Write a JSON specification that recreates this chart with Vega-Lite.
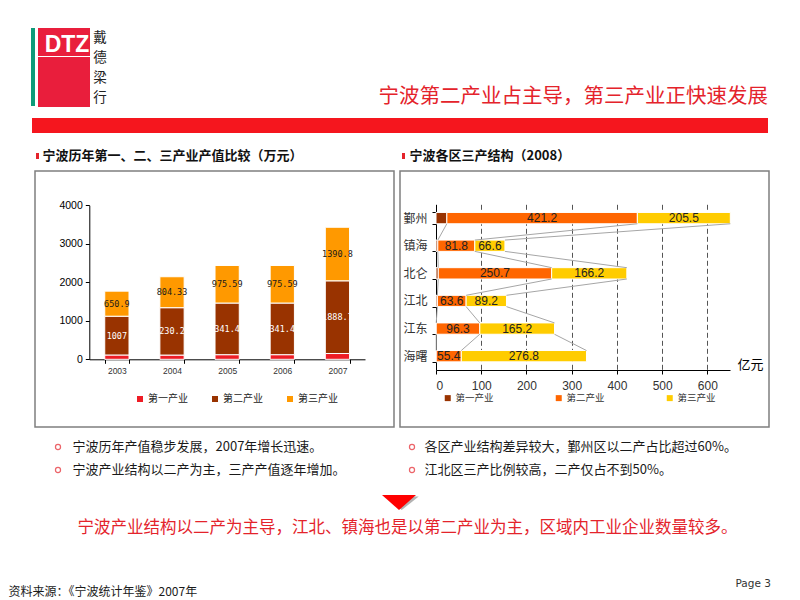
{
  "$schema": "https://vega.github.io/schema/vega-lite/v6.json",
  "padding": 0,
  "background": "white",
  "spacing": 0,
  "bounds": "full",
  "resolve": {"scale": {"color": "independent"}, "legend": {"color": "independent"}},
  "config": {"view": {"stroke": null}, "font": "Noto Sans CJK SC"},
  "vconcat": [
    {"width": 1, "height": 28, "data": {"values": []}, "mark": "text", "encoding": {}},
    {
      "spacing": 0, "bounds": "full",
      "title": {"text": "宁波第二产业占主导，第三产业正快速发展", "orient": "bottom", "anchor": "end", "offset": -21, "baseline": "top", "fontSize": 20.5, "fontWeight": "normal", "color": "#e4232b", "font": "Noto Sans CJK SC"},
      "hconcat": [
        {"width": 31, "height": 78, "data": {"values": []}, "mark": "text", "encoding": {}},
        {"width": 4, "height": 78, "view": {"fill": "#0e9b79", "stroke": null}, "data": {"values": []}, "mark": "text", "encoding": {}},
        {"width": 3, "height": 78, "data": {"values": []}, "mark": "text", "encoding": {}},
        {
          "spacing": 0, "bounds": "full",
          "vconcat": [
            {"width": 52, "height": 5, "view": {"fill": "#e91e3c", "stroke": null}, "data": {"values": []}, "mark": "text", "encoding": {}},
            {
              "spacing": 0, "bounds": "full",
              "hconcat": [
                {"width": 6, "height": 23, "view": {"fill": "#e91e3c", "stroke": null}, "data": {"values": []}, "mark": "text", "encoding": {}},
                {"width": 46, "height": 23, "view": {"fill": "#e91e3c", "stroke": null}, "data": {"values": [{"t": "DTZ"}]}, "mark": {"type": "text", "font": "Liberation Sans", "fontWeight": "bold", "fontSize": 23, "color": "white", "baseline": "middle"}, "encoding": {"text": {"field": "t"}}}
              ]
            },
            {"width": 52, "height": 50, "view": {"fill": "#e91e3c", "stroke": null}, "data": {"values": []}, "mark": "text", "encoding": {}}
          ]
        },
        {"width": 3, "height": 78, "data": {"values": []}, "mark": "text", "encoding": {}},
        {
          "spacing": 0, "bounds": "full",
          "vconcat": [
            {"width": 14, "height": 19.5, "data": {"values": [{"t": "戴"}]}, "mark": {"type": "text", "fontSize": 13.5, "color": "#222222", "baseline": "middle"}, "encoding": {"text": {"field": "t"}}},
            {"width": 14, "height": 19.5, "data": {"values": [{"t": "德"}]}, "mark": {"type": "text", "fontSize": 13.5, "color": "#222222", "baseline": "middle"}, "encoding": {"text": {"field": "t"}}},
            {"width": 14, "height": 19.5, "data": {"values": [{"t": "梁"}]}, "mark": {"type": "text", "fontSize": 13.5, "color": "#222222", "baseline": "middle"}, "encoding": {"text": {"field": "t"}}},
            {"width": 14, "height": 19.5, "data": {"values": [{"t": "行"}]}, "mark": {"type": "text", "fontSize": 13.5, "color": "#222222", "baseline": "middle"}, "encoding": {"text": {"field": "t"}}}
          ]
        },
        {"width": 661, "height": 78, "data": {"values": []}, "mark": "text", "encoding": {}}
      ]
    },
    {"width": 1, "height": 10, "data": {"values": []}, "mark": "text", "encoding": {}},
    {
      "spacing": 0, "bounds": "flush",
      "hconcat": [
        {"width": 32, "height": 15, "data": {"values": []}, "mark": "text", "encoding": {}},
        {"width": 736, "height": 15, "view": {"fill": "#f5161e", "stroke": null}, "data": {"values": []}, "mark": "text", "encoding": {}}
      ]
    },
    {"width": 1, "height": 15, "data": {"values": []}, "mark": "text", "encoding": {}},
    {
      "spacing": 0, "bounds": "flush",
      "hconcat": [
        {"width": 36, "height": 16, "data": {"values": []}, "mark": "text", "encoding": {}},
        {"width": 3, "height": 16, "data": {"values": [{}]}, "mark": {"type": "point", "shape": "M-0.5,-1L0.5,-1L0.5,1L-0.5,1Z", "filled": true, "size": 36, "color": "#e4232b", "opacity": 1}, "encoding": {}},
        {"width": 3, "height": 16, "data": {"values": []}, "mark": "text", "encoding": {}},
        {"width": 1, "height": 16, "data": {"values": [{"t": "宁波历年第一、二、三产业产值比较（万元）"}]}, "mark": {"type": "text", "align": "left", "baseline": "middle", "fontSize": 13, "fontWeight": "bold", "color": "#111111"}, "encoding": {"text": {"field": "t"}}},
        {"width": 359, "height": 16, "data": {"values": []}, "mark": "text", "encoding": {}},
        {"width": 3, "height": 16, "data": {"values": [{}]}, "mark": {"type": "point", "shape": "M-0.5,-1L0.5,-1L0.5,1L-0.5,1Z", "filled": true, "size": 36, "color": "#e4232b", "opacity": 1}, "encoding": {}},
        {"width": 4, "height": 16, "data": {"values": []}, "mark": "text", "encoding": {}},
        {"width": 1, "height": 16, "data": {"values": [{"t": "宁波各区三产结构（2008）"}]}, "mark": {"type": "text", "align": "left", "baseline": "middle", "fontSize": 13, "fontWeight": "bold", "color": "#111111"}, "encoding": {"text": {"field": "t"}}}
      ]
    },
    {
      "spacing": 0, "bounds": "flush",
      "resolve": {"scale": {"color": "independent"}, "legend": {"color": "independent"}},
      "hconcat": [
        {"width": 35, "height": 256, "data": {"values": []}, "mark": "text", "encoding": {}},
        {
          "width": 359, "height": 256,
          "view": {"stroke": "#7f7f7f", "strokeWidth": 1.5, "fill": "white"},
          "data": {"values": [
            {"year": "2003", "ind": "第一产业", "k": 1, "v": 112},
            {"year": "2003", "ind": "第二产业", "k": 2, "v": 1007},
            {"year": "2003", "ind": "第三产业", "k": 3, "v": 650.9},
            {"year": "2004", "ind": "第一产业", "k": 1, "v": 110},
            {"year": "2004", "ind": "第二产业", "k": 2, "v": 1230.21},
            {"year": "2004", "ind": "第三产业", "k": 3, "v": 804.33},
            {"year": "2005", "ind": "第一产业", "k": 1, "v": 120},
            {"year": "2005", "ind": "第二产业", "k": 2, "v": 1341.46},
            {"year": "2005", "ind": "第三产业", "k": 3, "v": 975.59},
            {"year": "2006", "ind": "第一产业", "k": 1, "v": 120},
            {"year": "2006", "ind": "第二产业", "k": 2, "v": 1341.46},
            {"year": "2006", "ind": "第三产业", "k": 3, "v": 975.59},
            {"year": "2007", "ind": "第一产业", "k": 1, "v": 150},
            {"year": "2007", "ind": "第二产业", "k": 2, "v": 1888.7},
            {"year": "2007", "ind": "第三产业", "k": 3, "v": 1390.8}
          ]},
          "layer": [
            {
              "mark": {"type": "bar", "stroke": "white", "strokeWidth": 1},
              "encoding": {
                "x": {"field": "year", "type": "ordinal",
                  "scale": {"range": [54.3, 330], "paddingInner": 0.56, "paddingOuter": 0.28},
                  "axis": {"title": null, "offset": -67.7, "labelAngle": 0, "labelFontSize": 8.5, "labelFont": "Liberation Sans", "labelColor": "#333333", "domainColor": "#000000", "tickColor": "#000000", "tickBand": "extent", "tickSize": 4, "labelPadding": 3}},
                "y": {"field": "v", "type": "quantitative", "stack": "zero",
                  "scale": {"domain": [0, 4000], "range": [188.3, 34.3], "nice": false},
                  "axis": {"title": null, "offset": -54.3, "values": [0, 500, 1000, 1500, 2000, 2500, 3000, 3500, 4000], "format": "d", "grid": false, "labelFontSize": 10.5, "labelFont": "Liberation Sans", "labelColor": "#000000", "domainColor": "#000000", "tickColor": "#000000", "tickSize": 4, "labelPadding": 3}},
                "color": {"field": "ind", "type": "nominal",
                  "scale": {"domain": ["第一产业", "第二产业", "第三产业"], "range": ["#ee1c25", "#993300", "#ff9900"]},
                  "legend": {"title": null, "orient": "none", "legendX": 100, "legendY": 223, "direction": "horizontal", "symbolType": "square", "symbolSize": 36, "symbolStrokeWidth": 0, "labelFontSize": 10, "labelColor": "#222222", "labelOffset": 3, "columnPadding": 22}},
                "order": {"field": "k", "type": "quantitative"}
              }
            },
            {
              "mark": {"type": "text", "font": "DejaVu Sans Mono", "fontSize": 8.5, "baseline": "middle"},
              "encoding": {
                "x": {"field": "year", "type": "ordinal"},
                "y": {"field": "v", "type": "quantitative", "stack": "zero", "bandPosition": 0.5},
                "detail": {"field": "ind"},
                "order": {"field": "k", "type": "quantitative"},
                "text": {"condition": {"test": "datum.k == 1", "value": ""}, "field": "v", "type": "quantitative", "format": "~g"},
                "color": {"condition": {"test": "datum.k == 2", "value": "#ffffff"}, "value": "#1a1a1a"}
              }
            }
          ]
        },
        {"width": 6, "height": 256, "data": {"values": []}, "mark": "text", "encoding": {}},
        {
          "width": 369, "height": 256,
          "view": {"stroke": "#7f7f7f", "strokeWidth": 1.5, "fill": "white"},
          "resolve": {"axis": {"x": "independent"}},
          "data": {"values": [
            {"region": "鄞州", "ind": "第一产业", "k": 1, "v": 24},
            {"region": "鄞州", "ind": "第二产业", "k": 2, "v": 421.2},
            {"region": "鄞州", "ind": "第三产业", "k": 3, "v": 205.5},
            {"region": "镇海", "ind": "第一产业", "k": 1, "v": 4},
            {"region": "镇海", "ind": "第二产业", "k": 2, "v": 81.8},
            {"region": "镇海", "ind": "第三产业", "k": 3, "v": 66.6},
            {"region": "北仑", "ind": "第一产业", "k": 1, "v": 5},
            {"region": "北仑", "ind": "第二产业", "k": 2, "v": 250.7},
            {"region": "北仑", "ind": "第三产业", "k": 3, "v": 166.2},
            {"region": "江北", "ind": "第一产业", "k": 1, "v": 3},
            {"region": "江北", "ind": "第二产业", "k": 2, "v": 63.6},
            {"region": "江北", "ind": "第三产业", "k": 3, "v": 89.2},
            {"region": "江东", "ind": "第一产业", "k": 1, "v": 0.5},
            {"region": "江东", "ind": "第二产业", "k": 2, "v": 96.3},
            {"region": "江东", "ind": "第三产业", "k": 3, "v": 165.2},
            {"region": "海曙", "ind": "第一产业", "k": 1, "v": 0.5},
            {"region": "海曙", "ind": "第二产业", "k": 2, "v": 55.4},
            {"region": "海曙", "ind": "第三产业", "k": 3, "v": 276.8}
          ]},
          "layer": [
            {
              "mark": {"type": "bar", "stroke": "white", "strokeWidth": 1},
              "encoding": {
                "y": {"field": "region", "type": "nominal",
                  "scale": {"domain": ["鄞州", "镇海", "北仑", "江北", "江东", "海曙"], "range": [33.3, 199], "paddingInner": 0.59, "paddingOuter": 0.295},
                  "axis": {"title": null, "offset": -36, "tickBand": "extent", "tickSize": 4, "labelPadding": 5, "labelFontSize": 12, "labelColor": "#333333", "domainColor": "#000000", "tickColor": "#000000"}},
                "x": {"field": "v", "type": "quantitative", "stack": "zero",
                  "scale": {"domain": [0, 650], "range": [36, 330], "nice": false},
                  "axis": {"orient": "bottom", "title": "亿元", "offset": -57, "values": [0, 100, 200, 300, 400, 500, 600], "grid": false, "labelFontSize": 12, "labelFont": "Liberation Sans", "labelColor": "#333333", "tickSize": 4, "labelPadding": 6, "domainColor": "#000000", "tickColor": "#000000", "titleFontSize": 13, "titleFontWeight": "normal", "titleColor": "#000000", "titleX": 350, "titleY": -6, "titleAlign": "center", "titleBaseline": "middle", "titleAnchor": null}},
                "color": {"field": "ind", "type": "nominal",
                  "scale": {"domain": ["第一产业", "第二产业", "第三产业"], "range": ["#993300", "#ff6600", "#ffcc00"]},
                  "legend": {"title": null, "orient": "none", "legendX": 43, "legendY": 222, "direction": "horizontal", "symbolType": "square", "symbolSize": 36, "symbolStrokeWidth": 0, "labelFontSize": 9.5, "labelColor": "#333333", "labelOffset": 3, "columnPadding": 60}},
                "order": {"field": "k", "type": "quantitative"}
              }
            },
            {
              "mark": {"type": "text", "font": "Liberation Sans", "fontSize": 12, "color": "#222222", "baseline": "middle"},
              "encoding": {
                "y": {"field": "region", "type": "nominal"},
                "x": {"field": "v", "type": "quantitative", "stack": "zero", "bandPosition": 0.5,
                  "axis": {"orient": "top", "title": null, "offset": 0, "values": [100, 200, 300, 400, 500, 600], "grid": true, "gridDash": [5, 3], "gridColor": "#555555", "gridWidth": 1, "labels": false, "ticks": false, "domain": false}},
                "detail": {"field": "ind"},
                "order": {"field": "k", "type": "quantitative"},
                "text": {"condition": {"test": "datum.k == 1", "value": ""}, "field": "v", "type": "quantitative", "format": ".1f"}
              }
            },
            {
              "data": {"values": [
                {"from": "鄞州", "to": "镇海", "x1": 24, "x2": 4},
                {"from": "鄞州", "to": "镇海", "x1": 445.2, "x2": 85.8},
                {"from": "鄞州", "to": "镇海", "x1": 650.7, "x2": 152.4},
                {"from": "镇海", "to": "北仑", "x1": 4, "x2": 5},
                {"from": "镇海", "to": "北仑", "x1": 85.8, "x2": 255.7},
                {"from": "镇海", "to": "北仑", "x1": 152.4, "x2": 421.9},
                {"from": "北仑", "to": "江北", "x1": 5, "x2": 3},
                {"from": "北仑", "to": "江北", "x1": 255.7, "x2": 66.6},
                {"from": "北仑", "to": "江北", "x1": 421.9, "x2": 155.8},
                {"from": "江北", "to": "江东", "x1": 3, "x2": 0.5},
                {"from": "江北", "to": "江东", "x1": 66.6, "x2": 96.8},
                {"from": "江北", "to": "江东", "x1": 155.8, "x2": 262},
                {"from": "江东", "to": "海曙", "x1": 0.5, "x2": 0.5},
                {"from": "江东", "to": "海曙", "x1": 96.8, "x2": 55.9},
                {"from": "江东", "to": "海曙", "x1": 262, "x2": 332.7}
              ]},
              "mark": {"type": "rule", "color": "#a6a6a6", "strokeWidth": 1},
              "encoding": {
                "x": {"field": "x1", "type": "quantitative", "axis": null},
                "x2": {"field": "x2"},
                "y": {"field": "from", "type": "nominal", "bandPosition": 1},
                "y2": {"field": "to", "bandPosition": 0}
              }
            }
          ]
        }
      ]
    },
    {"width": 1, "height": 10.5, "data": {"values": []}, "mark": "text", "encoding": {}},
    {
      "spacing": 0, "bounds": "flush",
      "hconcat": [
        {"width": 55, "height": 16, "data": {"values": []}, "mark": "text", "encoding": {}},
        {"width": 6, "height": 16, "data": {"values": [{}]}, "mark": {"type": "point", "shape": "circle", "filled": false, "size": 26, "stroke": "#e4232b", "strokeWidth": 1.2}, "encoding": {}},
        {"width": 11, "height": 16, "data": {"values": []}, "mark": "text", "encoding": {}},
        {"width": 1, "height": 16, "data": {"values": [{"t": "宁波历年产值稳步发展，2007年增长迅速。"}]}, "mark": {"type": "text", "align": "left", "baseline": "middle", "fontSize": 13, "color": "#1a1a1a"}, "encoding": {"text": {"field": "t"}}},
        {"width": 336, "height": 16, "data": {"values": []}, "mark": "text", "encoding": {}},
        {"width": 6, "height": 16, "data": {"values": [{}]}, "mark": {"type": "point", "shape": "circle", "filled": false, "size": 26, "stroke": "#e4232b", "strokeWidth": 1.2}, "encoding": {}},
        {"width": 9, "height": 16, "data": {"values": []}, "mark": "text", "encoding": {}},
        {"width": 1, "height": 16, "data": {"values": [{"t": "各区产业结构差异较大，鄞州区以二产占比超过60%。"}]}, "mark": {"type": "text", "align": "left", "baseline": "middle", "fontSize": 13, "color": "#1a1a1a"}, "encoding": {"text": {"field": "t"}}}
      ]
    },
    {"width": 1, "height": 7, "data": {"values": []}, "mark": "text", "encoding": {}},
    {
      "spacing": 0, "bounds": "flush",
      "hconcat": [
        {"width": 55, "height": 16, "data": {"values": []}, "mark": "text", "encoding": {}},
        {"width": 6, "height": 16, "data": {"values": [{}]}, "mark": {"type": "point", "shape": "circle", "filled": false, "size": 26, "stroke": "#e4232b", "strokeWidth": 1.2}, "encoding": {}},
        {"width": 11, "height": 16, "data": {"values": []}, "mark": "text", "encoding": {}},
        {"width": 1, "height": 16, "data": {"values": [{"t": "宁波产业结构以二产为主，三产产值逐年增加。"}]}, "mark": {"type": "text", "align": "left", "baseline": "middle", "fontSize": 13, "color": "#1a1a1a"}, "encoding": {"text": {"field": "t"}}},
        {"width": 336, "height": 16, "data": {"values": []}, "mark": "text", "encoding": {}},
        {"width": 6, "height": 16, "data": {"values": [{}]}, "mark": {"type": "point", "shape": "circle", "filled": false, "size": 26, "stroke": "#e4232b", "strokeWidth": 1.2}, "encoding": {}},
        {"width": 9, "height": 16, "data": {"values": []}, "mark": "text", "encoding": {}},
        {"width": 1, "height": 16, "data": {"values": [{"t": "江北区三产比例较高，二产仅占不到50%。"}]}, "mark": {"type": "text", "align": "left", "baseline": "middle", "fontSize": 13, "color": "#1a1a1a"}, "encoding": {"text": {"field": "t"}}}
      ]
    },
    {"width": 1, "height": 17, "data": {"values": []}, "mark": "text", "encoding": {}},
    {
      "spacing": 0, "bounds": "flush",
      "hconcat": [
        {"width": 382, "height": 15, "data": {"values": []}, "mark": "text", "encoding": {}},
        {"width": 34, "height": 15, "data": {"values": [{}]},
          "layer": [
            {"mark": {"type": "point", "shape": "M-0.84,-0.36L1.16,-0.36L0.16,0.44Z", "filled": true, "size": 1156, "color": "#b3b3b3", "opacity": 1}, "encoding": {}},
            {"mark": {"type": "point", "shape": "M-1,-0.44L1,-0.44L0,0.44Z", "filled": true, "size": 1156, "color": "#ff0000", "opacity": 1}, "encoding": {}}
          ]
        }
      ]
    },
    {"width": 1, "height": 10, "data": {"values": []}, "mark": "text", "encoding": {}},
    {
      "spacing": 0, "bounds": "flush",
      "hconcat": [
        {"width": 407, "height": 16, "data": {"values": []}, "mark": "text", "encoding": {}},
        {"width": 1, "height": 16, "data": {"values": [{"t": "宁波产业结构以二产为主导，江北、镇海也是以第二产业为主，区域内工业企业数量较多。"}]}, "mark": {"type": "text", "align": "center", "baseline": "middle", "fontSize": 16.5, "color": "#e4232b"}, "encoding": {"text": {"field": "t"}}}
      ]
    },
    {"width": 1, "height": 39, "data": {"values": []}, "mark": "text", "encoding": {}},
    {
      "spacing": 0, "bounds": "flush",
      "hconcat": [
        {"width": 8, "height": 24, "data": {"values": []}, "mark": "text", "encoding": {}},
        {"width": 1, "height": 32, "data": {"values": [{"t": "资料来源：《宁波统计年鉴》2007年"}]}, "mark": {"type": "text", "align": "left", "baseline": "middle", "fontSize": 12, "color": "#1a1a1a"}, "encoding": {"text": {"field": "t"}}},
        {"width": 726, "height": 24, "data": {"values": []}, "mark": "text", "encoding": {}},
        {"width": 1, "height": 16, "data": {"values": [{"t": "Page 3"}]}, "mark": {"type": "text", "align": "left", "baseline": "middle", "fontSize": 10.5, "font": "DejaVu Sans", "color": "#333333"}, "encoding": {"text": {"field": "t"}}}
      ]
    }
  ]
}
